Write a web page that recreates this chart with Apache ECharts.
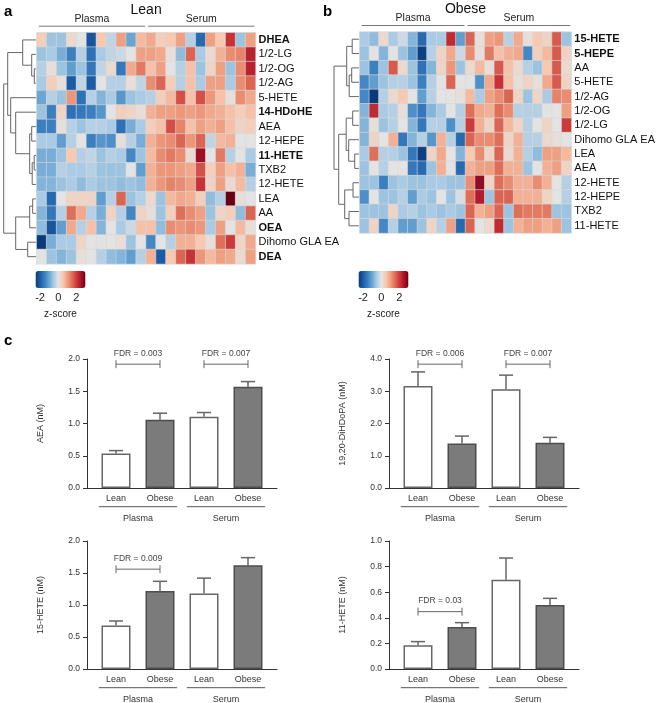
<!DOCTYPE html>
<html><head><meta charset="utf-8">
<script src="https://cdn.jsdelivr.net/npm/echarts@6/dist/echarts.min.js"></script>
<style>html,body{margin:0;padding:0;background:#fff}#c{width:658px;height:703px}</style>
</head><body><div id="c"></div>
<script>
// ---------------- DATA ----------------
const sampleCols = ['P1','P2','P3','P4','P5','P6','P7','P8','P9','P10','P11','S1','S2','S3','S4','S5','S6','S7','S8','S9','S10','S11'];
const sampleGroups = ['Plasma','Serum'];
const groupSize = [11, 11];

const leanRows = ['DHEA','1/2-LG','1/2-OG','1/2-AG','5-HETE','14-HDoHE','AEA','12-HEPE','11-HETE','TXB2','12-HETE','LEA','AA','OEA','Dihomo GLA EA','DEA'];
const leanBold = ['DHEA','14-HDoHE','11-HETE','OEA','DEA'];
const leanZ = [
 [0.4,-0.6,-0.6,0.2,0,-2.1,0.5,-0.3,1.0,-1.0,0.7, 0.9,0.4,0.5,1.0,-0.4,-1.8,1.0,0.5,2.1,-0.6,1.0],
 [-0.6,-0.5,-0.9,-1.5,-0.4,-1.7,-0.5,-0.3,-0.2,0,1.0, 1.0,0.9,0.1,-0.7,1.6,-0.5,0.2,0.8,1.2,1.3,2.3],
 [-0.4,0.1,-0.6,-1.1,-0.6,-1.6,-0.3,0.2,-1.6,0.9,1.4, 0.6,1.0,0,-0.4,0.6,-0.6,0.3,1.0,-0.6,1.2,2.3],
 [-0.5,0.4,0.1,-2.0,-0.3,-2.0,0,-0.4,-0.4,0.1,-0.3, 1.2,1.6,0.4,-0.4,0.6,-0.5,1.0,1.0,-0.5,1.2,1.6],
 [-1.0,-0.4,-0.6,1.1,-1.7,-0.4,-0.8,-0.5,-1.2,-0.6,-0.5, -0.4,0.4,0.7,1.8,0.6,1.8,1.1,0.6,0.1,1.2,0.9],
 [-0.6,-1.5,0.3,-1.7,-1.6,-1.5,-1.2,0,0.4,0.3,0.1, 0.8,1.0,1.0,1.1,1.0,1.1,0.9,0.8,0.6,0.4,0.6],
 [-1.5,-1.5,0.1,-0.4,-0.6,-0.4,-0.4,-0.5,-1.7,-0.9,-0.5, 0.4,0.6,1.8,1.3,0.6,1.0,0.8,1.0,0.6,0.3,0.4],
 [-0.5,-0.5,-1.1,-0.4,0,-1.5,-1.2,-1.3,0.1,-0.4,-0.9, 0.8,1.1,1.2,1.6,1.1,1.6,-0.3,0.7,0.8,0,0],
 [-0.9,-0.9,-0.6,0.5,-0.4,-0.3,-0.6,-0.4,-0.5,-1.4,-0.6, 0.7,1.2,1.4,1.2,0.2,2.6,0,1.4,-0.4,0,-0.5],
 [-0.9,-0.9,-0.4,-0.5,-0.5,-0.4,-0.6,-0.6,-0.6,0,-1.1, 0.8,1.1,1.1,1.0,0.9,1.8,0.4,1.0,0.6,0.8,-0.9],
 [-0.8,-0.8,-0.6,-0.5,-0.7,-0.5,-0.6,-0.6,-0.7,-0.6,-0.7, 0.8,1.1,1.3,1.2,1.0,2.1,0.3,1.0,0.2,0.7,-0.4],
 [-0.5,-1.8,0,0.3,0.3,0.3,-1.1,-0.4,1.6,-0.6,-0.4, 0.2,-0.6,0.7,0.9,0.8,0.4,-0.7,-0.4,3.0,0.1,0],
 [-0.8,-1.6,-0.4,1.5,0.9,-0.4,-0.9,0.3,-0.4,-1.4,0.3, 0.1,-0.6,0.4,1.5,1.2,1.0,-0.6,0.3,0.4,-0.7,1.6],
 [-0.7,-2.1,-1.1,0.9,-0.4,0.6,-0.8,0,-0.5,-0.2,0.6, 0.6,-0.7,1.2,1.1,1.2,1.1,-0.5,1.0,0,0.7,0.1],
 [-2.6,-0.9,-0.5,-0.5,0.3,0,0,0,0.1,-0.6,0, -1.4,0,-0.4,0.8,0.8,0.5,0.1,1.5,2.0,0.3,0.9],
 [0,-0.6,-0.8,-0.6,0.1,0,-0.4,-0.7,-0.8,-1.1,-0.4, 0.8,-2.0,0.5,1.6,2.1,1.1,0.7,1.0,0.9,0.2,1.0]
];
// hclust-style merges: negative = leaf (1-based row), positive = earlier merge; third = height
const leanMerges = [
 [-3,-4,2.4],[-2,1,5],[-1,2,14],[-9,-10,2.5],[-11,4,4.5],[-7,-8,5],[6,5,7],[-6,7,21],[-5,8,26],[3,9,29],
 [-12,-13,4],[11,-14,7],[-15,-16,9],[12,13,21],[10,14,33]
];

const obeseRows = ['15-HETE','5-HEPE','AA','5-HETE','1/2-AG','1/2-OG','1/2-LG','Dihomo GLA EA','LEA','AEA','12-HETE','12-HEPE','TXB2','11-HETE'];
const obeseBold = ['15-HETE','5-HEPE'];
const obeseZ = [
 [-0.5,-0.7,0.2,-0.5,-0.2,-0.8,-1.8,-0.5,-0.5,2.2,-1.1, 1.6,0.1,1.0,1.1,-0.4,0.9,0.1,0.5,0.3,1.7,-0.6],
 [-0.6,0,-0.8,0,-0.6,-1.1,-2.4,-0.4,0.3,0.9,-0.2, 1.2,0.1,1.4,0.6,0.8,0.9,-1.4,0.4,0.7,1.7,0.3],
 [-0.6,-1.5,-0.6,1.7,0.2,-0.6,-1.7,-0.8,0.3,1.1,-0.6, 0.2,0.7,0.1,1.7,0.6,0.2,-0.4,-0.6,0.5,1.7,0.2],
 [-1.4,-1.1,-0.6,-0.4,-0.4,-0.6,-1.5,-0.4,0,1.6,0, 0,-1.3,0.9,2.1,0.6,0.1,0.3,0.1,0.9,1.7,0.3],
 [-1.4,-2.8,-0.4,0.2,0.5,0,-1.1,-0.4,0,0,0.1, 0.7,-0.5,1.0,1.2,1.6,0.3,-0.6,0.3,-0.5,1.3,1.2],
 [-0.8,2.2,-0.5,-0.4,0.1,-1.3,-1.6,-0.8,-0.5,0,-0.4, 1.5,0.9,0.8,1.5,1.2,-0.4,-0.4,-0.4,0,0,1.0],
 [-0.8,0.1,-0.6,-0.4,0,-0.8,-1.6,-0.4,-0.4,-1.3,-0.4, 2.0,0.8,0.3,1.6,0.7,0.3,-0.4,0,0.3,0,2.0],
 [-0.8,0.3,0,0.8,-1.6,-0.8,-0.4,-1.2,0.8,-0.4,-1.8, 1.6,1.2,1.2,1.5,0.3,0.8,-0.4,-0.4,0.2,0.1,0],
 [-0.5,1.5,-0.4,-0.4,-0.6,-1.6,-2.4,0.3,0.9,0,-0.8, 0.5,1.2,0.3,1.6,0.2,0.8,-0.4,-0.7,1.0,1.0,0.7],
 [-0.6,0,-0.4,0,0,-1.6,-1.8,-0.6,0.8,0,-1.8, 0.8,1.0,1.0,1.5,0.8,0.8,-0.6,0,0.8,1.0,0.3],
 [-0.6,-0.6,-1.5,-0.6,-0.5,-0.6,-0.6,-0.5,-0.5,-0.6,-0.6, 1.2,2.7,0.3,1.5,1.2,0.8,0.8,1.2,0.8,0,-0.4],
 [-1.3,0,-0.6,-0.6,-0.4,-1.1,-0.5,-0.6,0,-0.6,-0.1, 1.5,2.4,-0.6,1.6,1.6,0.8,0.8,0.8,0.3,0,-0.4],
 [-0.6,-0.6,-0.6,0.3,-0.5,-0.4,-0.6,-0.5,-0.6,-0.5,-0.6, 1.6,0.8,1.0,1.6,-0.6,1.5,1.4,1.4,1.4,-0.6,-0.6],
 [-0.6,0.3,-1.4,-0.4,-1.1,-1.1,-0.6,0.3,-0.4,1.0,-1.8, 1.6,0,0.2,2.2,-0.6,0.8,1.0,1.0,0.8,1.0,-0.6]
];
const obeseMerges = [
 [-1,-2,7.5],[-3,-4,8],[2,-5,10.5],[1,3,13],[-6,-7,7],[-9,-10,5],[-8,6,11],[5,7,13.5],
 [-11,-12,6.7],[-13,-14,10.7],[9,10,15],[8,11,21],[4,12,25.7]
];

const zMin = -2.5, zMax = 3.0;
const zTicks = [-2, 0, 2];

const conditions = ['Lean','Obese'];
const barCats = ['Lean','Obese','Lean','Obese'];

const aeaMean  = [0.535, 1.06, 1.106, 1.57];
const aeaUpper = [0.58, 1.16, 1.17, 1.65];
const aeaFdr   = [[0,1,1.92],[2,3,1.92]];
const aeaFdrText = ['FDR = 0.003','FDR = 0.007'];

const dhdpMean  = [3.16, 1.38, 3.06, 1.40];
const dhdpUpper = [3.6, 1.61, 3.5, 1.57];
const dhdpFdr   = [[0,1,3.84],[2,3,3.84]];
const dhdpFdrText = ['FDR = 0.006','FDR = 0.007'];

const hete15Mean  = [0.68, 1.22, 1.18, 1.62];
const hete15Upper = [0.75, 1.37, 1.42, 1.74];
const hete15Fdr   = [[0,1,1.56]];
const hete15FdrText = ['FDR = 0.009'];

const hete11Mean  = [0.185, 0.328, 0.698, 0.50];
const hete11Upper = [0.214, 0.362, 0.867, 0.552];
const hete11Fdr   = [[0,1,0.448]];
const hete11FdrText = ['FDR = 0.03'];

// ---------------- STYLE / BUILD ----------------
const FONT = '"Liberation Sans", Arial, sans-serif';
const zColors = ['#0b3a7a','#1c5ca6','#3a7fc0','#6aa6d3','#a9cbe5','#e3e3e3','#f7c9b1','#f0a082','#e06f58','#cd3a3b','#ab1328','#6a0018'];
const grids = [], xAxes = [], yAxes = [], series = [], visualMaps = [];
function addGrid(g){ grids.push(g); return grids.length - 1; }

function heatPanel(o){
  const gi = addGrid({left:o.left, top:o.top, width:o.width, height:o.height});
  const xi = xAxes.push({type:'category', gridIndex:gi, data:sampleCols, show:false}) - 1;
  const yi = yAxes.push({type:'category', gridIndex:gi, data:o.rows, inverse:true, position:'right',
    axisLine:{show:false}, axisTick:{show:false},
    axisLabel:{interval:0, margin:3, fontFamily:FONT, fontSize:11, color:'#111',
      formatter: v => o.bold.includes(v) ? '{b|' + v + '}' : v,
      rich:{b:{fontWeight:'bold', fontFamily:FONT, fontSize:11, color:'#111'}}}}) - 1;
  const data = [];
  o.z.forEach((row, r) => row.forEach((v, c) => data.push([c, r, v])));
  const si = series.push({type:'heatmap', xAxisIndex:xi, yAxisIndex:yi, data, silent:true,
    itemStyle:{borderColor:'#d6d6d6', borderWidth:0.6}, emphasis:{disabled:true}}) - 1;
  visualMaps.push({type:'continuous', seriesIndex:si, min:zMin, max:zMax, inRange:{color:zColors},
    orient:'horizontal', left:o.left - 1.2, top:271, itemWidth:17, itemHeight:50,
    calculable:false, padding:0, hoverLink:false, text:null});
  // header: title, group labels, group lines
  series.push({type:'custom', xAxisIndex:xi, yAxisIndex:yi, silent:true, data:[[0,0]], z:5,
    renderItem(params, api){
      const sz = api.size([1,1]);
      const c0 = api.coord([0,0]);
      const top = c0[1] - sz[1]/2, left = c0[0] - sz[0]/2;
      const ch = [];
      let start = 0;
      sampleGroups.forEach((g, k) => {
        const x1 = left + start*sz[0] + 2, x2 = left + (start + groupSize[k])*sz[0] - 1;
        ch.push({type:'line', shape:{x1, y1:top-6.5, x2, y2:top-6.5}, style:{stroke:'#777', lineWidth:1}});
        ch.push({type:'text', x:(x1+x2)/2, y:top-14, style:{text:g, fill:'#222', fontSize:10.5, fontFamily:FONT, align:'center', verticalAlign:'middle'}});
        start += groupSize[k];
      });
      ch.push({type:'text', x:left + sampleCols.length*sz[0]/2, y:top-23, style:{text:o.title, fill:'#111', fontSize:14, fontFamily:FONT, align:'center', verticalAlign:'middle'}});
      return {type:'group', children:ch};
    }});
  // dendrogram
  const gd = addGrid({left:o.left - o.dendroWidth, top:o.top, width:o.dendroWidth, height:o.height});
  const xd = xAxes.push({type:'value', gridIndex:gd, min:0, max:o.dendroWidth, inverse:true, show:false}) - 1;
  const yd = yAxes.push({type:'value', gridIndex:gd, min:0, max:o.rows.length, inverse:true, show:false}) - 1;
  series.push({type:'custom', xAxisIndex:xd, yAxisIndex:yd, silent:true, data:[[0,0]],
    renderItem(params, api){
      const ny = [], nh = [], ch = [];
      const pos = ref => ref < 0 ? {y:-ref - 0.5, h:0.8} : {y:ny[ref-1], h:nh[ref-1]};
      o.merges.forEach(([a, b, h], k) => {
        const A = pos(a), B = pos(b);
        ny[k] = (A.y + B.y)/2; nh[k] = h;
        const pts = [[A.h, A.y],[h, A.y],[h, B.y],[B.h, B.y]].map(p => api.coord(p));
        ch.push({type:'polyline', shape:{points:pts}, style:{stroke:'#666', lineWidth:1, fill:null}});
      });
      return {type:'group', children:ch};
    }});
  // colour-bar tick labels
  const gc = addGrid({left:o.left - 1.2, top:288, width:50, height:1});
  xAxes.push({type:'value', gridIndex:gc, min:zMin, max:zMax, interval:0.5,
    axisLine:{show:false}, axisTick:{show:false}, splitLine:{show:false},
    axisLabel:{margin:3, fontSize:11, color:'#222', fontFamily:FONT, formatter:v => zTicks.includes(v) ? String(v) : ''},
    name:'z-score', nameLocation:'middle', nameGap:20, nameTextStyle:{fontSize:10, color:'#222', fontFamily:FONT}});
  yAxes.push({type:'value', gridIndex:gc, show:false});
}

function barPanel(o){
  const ga = addGrid({left:o.axisLeft, top:o.top, width:190, height:o.height});
  xAxes.push({type:'value', gridIndex:ga, min:0, max:1, axisLine:{show:true, lineStyle:{color:'#333', width:1}},
    axisTick:{show:false}, axisLabel:{show:false}, splitLine:{show:false}});
  yAxes.push({type:'value', gridIndex:ga, min:0, max:o.yMax, interval:o.yInterval,
    axisLine:{show:true, lineStyle:{color:'#333', width:1}}, axisTick:{show:true, length:4, lineStyle:{color:'#333'}},
    axisLabel:{fontSize:8.5, color:'#333', fontFamily:FONT, margin:7, formatter:v => v.toFixed(1)},
    splitLine:{show:false}, name:o.name, nameLocation:'middle', nameGap:42,
    nameTextStyle:{fontSize:9, color:'#333', fontFamily:FONT}});
  const gb = addGrid({left:o.axisLeft + 7, top:o.top, width:176, height:o.height});
  const xb = xAxes.push({type:'category', gridIndex:gb, data:barCats, axisLine:{show:false}, axisTick:{show:false},
    axisLabel:{fontSize:9, color:'#333', fontFamily:FONT, margin:6, interval:0}}) - 1;
  const yb = yAxes.push({type:'value', gridIndex:gb, min:0, max:o.yMax, show:false}) - 1;
  const styles = [{color:'#ffffff', borderColor:'#666', borderWidth:1.5}, {color:'#7b7b7b', borderColor:'#4d4d4d', borderWidth:1.5}];
  conditions.forEach((cond, k) => {
    series.push({type:'bar', name:cond, xAxisIndex:xb, yAxisIndex:yb, barWidth:29, barGap:'-100%', silent:true,
      data:o.mean.map((v, i) => barCats[i] === cond ? v : '-'), itemStyle:styles[k]});
  });
  // error bars (upper only)
  series.push({type:'custom', xAxisIndex:xb, yAxisIndex:yb, silent:true, z:1,
    data:o.mean.map((m, i) => [i, m, o.upper[i]]),
    renderItem(params, api){
      const p0 = api.coord([api.value(0), api.value(1)]);
      const p1 = api.coord([api.value(0), api.value(2)]);
      return {type:'group', children:[
        {type:'line', shape:{x1:p0[0], y1:p0[1], x2:p1[0], y2:p1[1]}, style:{stroke:'#666', lineWidth:1.5}},
        {type:'line', shape:{x1:p1[0]-7, y1:p1[1], x2:p1[0]+7, y2:p1[1]}, style:{stroke:'#666', lineWidth:1.5}}
      ]};
    }});
  // FDR brackets
  series.push({type:'custom', xAxisIndex:xb, yAxisIndex:yb, silent:true, z:3, data:o.fdr,
    renderItem(params, api){
      const a = api.coord([api.value(0), api.value(2)]);
      const b = api.coord([api.value(1), api.value(2)]);
      return {type:'group', children:[
        {type:'line', shape:{x1:a[0], y1:a[1], x2:b[0], y2:b[1]}, style:{stroke:'#666', lineWidth:1}},
        {type:'line', shape:{x1:a[0], y1:a[1]-4, x2:a[0], y2:a[1]+4}, style:{stroke:'#666', lineWidth:1}},
        {type:'line', shape:{x1:b[0], y1:b[1]-4, x2:b[0], y2:b[1]+4}, style:{stroke:'#666', lineWidth:1}},
        {type:'text', x:(a[0]+b[0])/2, y:a[1]-10.5, style:{text:o.fdrText[params.dataIndex], fill:'#444', fontSize:8.5, fontFamily:FONT, align:'center', verticalAlign:'middle'}}
      ]};
    }});
  // group underline + group label
  series.push({type:'custom', xAxisIndex:xb, yAxisIndex:yb, silent:true, clip:false, data:[[0,1],[2,3]],
    renderItem(params, api){
      const a = api.coord([api.value(0), 0]);
      const b = api.coord([api.value(1), 0]);
      const w = api.size([1,0])[0]*0.39;
      return {type:'group', children:[
        {type:'line', shape:{x1:a[0]-w, y1:a[1]+18.7, x2:b[0]+w, y2:b[1]+18.7}, style:{stroke:'#555', lineWidth:1}},
        {type:'text', x:(a[0]+b[0])/2, y:a[1]+31, style:{text:sampleGroups[params.dataIndex], fill:'#333', fontSize:9, fontFamily:FONT, align:'center', verticalAlign:'middle'}}
      ]};
    }});
}

heatPanel({rows:leanRows, bold:leanBold, z:leanZ, merges:leanMerges, title:'Lean',
  left:36.7, top:32.7, width:218.8, height:231.2, dendroWidth:34.7});
heatPanel({rows:obeseRows, bold:obeseBold, z:obeseZ, merges:obeseMerges, title:'Obese',
  left:359.7, top:32, width:218, height:201, dendroWidth:29.7});

barPanel({axisLeft:87, top:359, height:129, yMax:2, yInterval:0.5, name:'AEA (nM)', mean:aeaMean, upper:aeaUpper, fdr:aeaFdr, fdrText:aeaFdrText});
barPanel({axisLeft:389, top:359, height:129, yMax:4, yInterval:1, name:'19,20-DiHDoPA (nM)', mean:dhdpMean, upper:dhdpUpper, fdr:dhdpFdr, fdrText:dhdpFdrText});
barPanel({axisLeft:87, top:541, height:128, yMax:2, yInterval:0.5, name:'15-HETE (nM)', mean:hete15Mean, upper:hete15Upper, fdr:hete15Fdr, fdrText:hete15FdrText});
barPanel({axisLeft:389, top:541, height:128, yMax:1, yInterval:0.2, name:'11-HETE (nM)', mean:hete11Mean, upper:hete11Upper, fdr:hete11Fdr, fdrText:hete11FdrText});

const chart = echarts.init(document.getElementById('c'), null, {renderer:'canvas', width:658, height:703});
chart.setOption({
  animation:false,
  backgroundColor:'#ffffff',
  grid:grids, xAxis:xAxes, yAxis:yAxes, series, visualMap:visualMaps,
  graphic:[
    {type:'text', left:4, top:4, style:{text:'a', fontSize:15, fontWeight:'bold', fontFamily:FONT, fill:'#000'}},
    {type:'text', left:323, top:4, style:{text:'b', fontSize:15, fontWeight:'bold', fontFamily:FONT, fill:'#000'}},
    {type:'text', left:4, top:333, style:{text:'c', fontSize:15, fontWeight:'bold', fontFamily:FONT, fill:'#000'}}
  ]
});
</script>
</body></html>
